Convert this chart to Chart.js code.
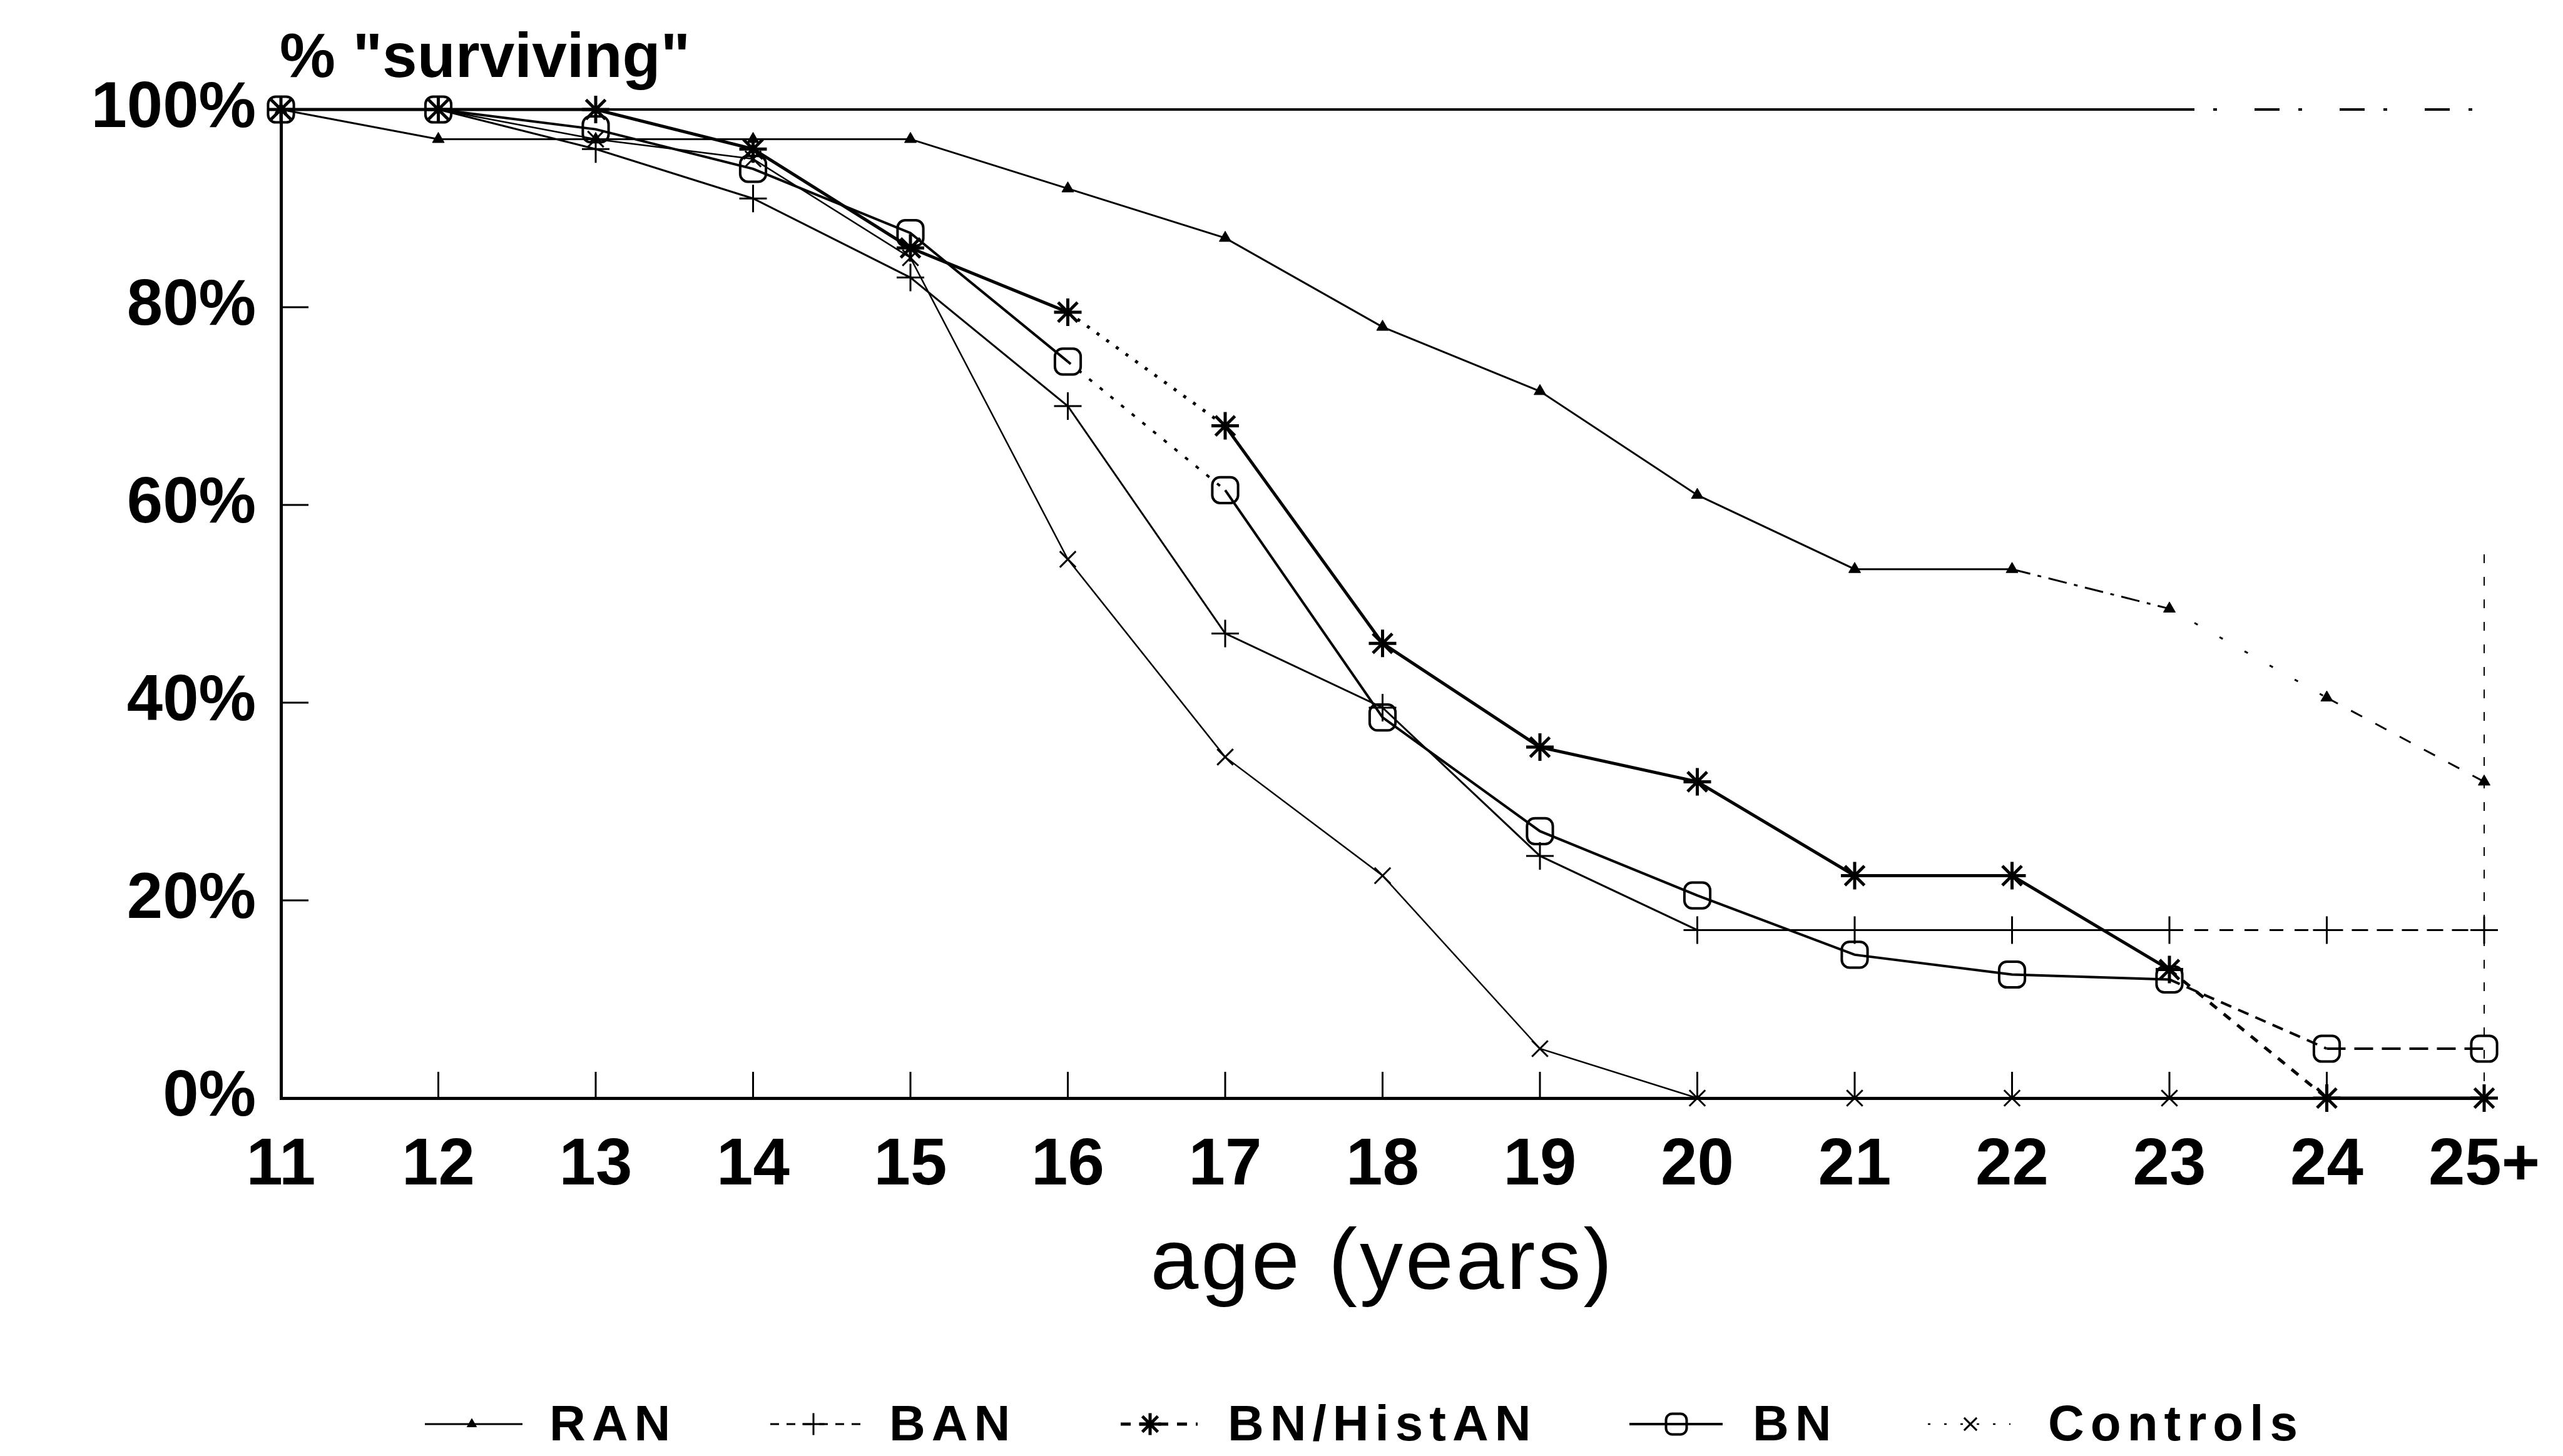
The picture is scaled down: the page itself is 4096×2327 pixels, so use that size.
<!DOCTYPE html>
<html>
<head>
<meta charset="utf-8">
<title>% surviving by age</title>
<style>
  html, body { margin: 0; padding: 0; background: #fff; }
</style>
<script src="https://cdn.jsdelivr.net/npm/chart.js@4.4.1/dist/chart.umd.min.js"></script>
</head>
<body>
<canvas id="survival" width="4096" height="2327"></canvas>
<script>
// ages on the x axis
var ages = ['11', '12', '13', '14', '15', '16', '17', '18', '19', '20', '21', '22', '23', '24', '25+'];

// % "surviving" per group
var ran      = [100, 97, 97, 97, 97, 92, 87, 78, 71.5, 61, 53.5, 53.5, 49.5, 40.5, 32];
var ban      = [100, 100, 96, 91, 83, 70, 47, 39.5, 24.5, 17, 17, 17, 17, 17, 17];
var bnHistAn = [100, 100, 100, 96, 86, 79.5, 68, 46, 35.5, 32, 22.5, 22.5, 13, 0, 0];
var bn       = [100, 100, 98, 94, 87.5, 74.5, 61.5, 38.5, 27, 20.5, 14.5, 12.5, 12, 5, 5];
var controls = [100, 100, 97, 95, 85, 54.5, 34.5, 22.5, 5, 0, 0, 0, 0, 0, 0];

var yTicks = [0, 20, 40, 60, 80, 100];

var FONT = "'Liberation Sans', Arial, Helvetica, sans-serif";

// faint / broken segments in the print (segment start index -> dash)
function dashes(map) {
    return function(c) { return map[c.p0DataIndex] || undefined; };
}

var survData = {
    labels: ages,
    datasets: [{
        label: 'RAN',
        data: ran,
        borderColor: '#000',
        borderWidth: 3,
        pointStyle: 'triangle',
        pointRadius: 11,
        pointBackgroundColor: '#000',
        pointBorderWidth: 1,
        legendDash: [],
        segment: { borderDash: dashes({ 11: [30, 12, 6, 12], 12: [6, 40], 13: [20, 24] }) }
    }, {
        label: 'BAN',
        data: ban,
        borderColor: '#000',
        borderWidth: 3,
        pointStyle: 'cross',
        pointRadius: 22,
        pointBackgroundColor: '#000',
        pointBorderWidth: 3,
        legendDash: [14, 12],
        segment: { borderDash: dashes({ 12: [22, 18], 13: [26, 14] }) }
    }, {
        label: 'BN/HistAN',
        data: bnHistAn,
        borderColor: '#000',
        borderWidth: 5,
        pointStyle: 'star',
        pointRadius: 22,
        pointBackgroundColor: '#000',
        pointBorderWidth: 5,
        legendDash: [16, 14],
        segment: { borderDash: dashes({ 5: [5, 14], 12: [14, 14] }) }
    }, {
        label: 'BN',
        data: bn,
        borderColor: '#000',
        borderWidth: 4,
        pointStyle: 'rectRounded',
        pointRadius: 24,
        pointBackgroundColor: 'rgba(0,0,0,0)',
        pointBorderWidth: 4,
        legendDash: [],
        segment: { borderDash: dashes({ 5: [6, 16], 12: [18, 12], 13: [30, 14] }) }
    }, {
        label: 'Controls',
        data: controls,
        borderColor: '#000',
        borderWidth: 2.5,
        pointStyle: 'crossRot',
        pointRadius: 18,
        pointBackgroundColor: '#000',
        pointBorderWidth: 3,
        legendDash: [4, 22]
    }]
};

// where the hand-drawn legend sits (canvas px)
var legendPos = [
    { x1: 679,  x2: 835,  mx: 754,  tx: 878 },
    { x1: 1231, x2: 1379, mx: 1300, tx: 1421 },
    { x1: 1791, x2: 1914, mx: 1838, tx: 1962 },
    { x1: 2604, x2: 2753, mx: 2679, tx: 2801 },
    { x1: 3081, x2: 3213, mx: 3149, tx: 3273 }
];
var legendY = 2280;

var frame = {
    id: 'frame',
    beforeDatasetsDraw: function(chart) {
        var ctx = chart.ctx, a = chart.chartArea;
        var xs = chart.scales.x, ys = chart.scales.y;
        ctx.save();
        ctx.strokeStyle = '#000';
        ctx.lineWidth = 3;
        // ticks point into the plot
        yTicks.forEach(function(v) {
            if (v <= 0 || v >= 100) return;
            var py = ys.getPixelForValue(v);
            ctx.beginPath();
            ctx.moveTo(a.left, py);
            ctx.lineTo(a.left + 44, py);
            ctx.stroke();
        });
        for (var i = 1; i < ages.length - 1; i++) {
            var px = xs.getPixelForValue(i);
            ctx.beginPath();
            ctx.moveTo(px, a.bottom);
            ctx.lineTo(px, a.bottom - 42);
            ctx.stroke();
        }
        // top edge: solid, then breaking up
        var top = ys.getPixelForValue(100);
        var cut = xs.getPixelForValue(12);
        ctx.lineWidth = 4;
        ctx.beginPath();
        ctx.moveTo(a.left, top);
        ctx.lineTo(cut, top);
        ctx.stroke();
        ctx.setLineDash([40, 30, 6, 60]);
        ctx.beginPath();
        ctx.moveTo(cut, top);
        ctx.lineTo(a.right, top);
        ctx.stroke();
        // right edge, faint dashes
        ctx.lineWidth = 2;
        ctx.setLineDash([14, 22]);
        ctx.beginPath();
        ctx.moveTo(a.right, ys.getPixelForValue(55));
        ctx.lineTo(a.right, a.bottom);
        ctx.stroke();
        ctx.restore();
    },
    afterDraw: function(chart) {
        var ctx = chart.ctx, a = chart.chartArea;
        ctx.save();
        ctx.fillStyle = '#000';
        ctx.strokeStyle = '#000';

        ctx.font = 'bold 100px ' + FONT;
        ctx.textAlign = 'left';
        ctx.textBaseline = 'alphabetic';
        ctx.fillText('% "surviving"', a.left - 2, 123);

        ctx.font = '138px ' + FONT;
        ctx.letterSpacing = '4px';
        ctx.textAlign = 'center';
        ctx.fillText('age (years)', (a.left + a.right) / 2, 2060);

        ctx.font = 'bold 80px ' + FONT;
        ctx.letterSpacing = '10px';
        ctx.textAlign = 'left';
        ctx.textBaseline = 'middle';
        chart.data.datasets.forEach(function(ds, i) {
            var p = legendPos[i];
            ctx.lineWidth = ds.borderWidth;
            ctx.setLineDash(ds.legendDash);
            ctx.beginPath();
            ctx.moveTo(p.x1, legendY - 4);
            ctx.lineTo(p.x2, legendY - 4);
            ctx.stroke();
            ctx.setLineDash([]);
            ctx.fillStyle = ds.pointBackgroundColor;
            ctx.lineWidth = ds.pointBorderWidth;
            Chart.helpers.drawPoint(ctx, {
                pointStyle: ds.pointStyle,
                rotation: 0,
                radius: ds.pointRadius * 0.8,
                borderWidth: ds.pointBorderWidth
            }, p.mx, legendY - 4);
            ctx.fillStyle = '#000';
            ctx.fillText(ds.label, p.tx, legendY);
        });
        ctx.restore();
    }
};

new Chart(document.getElementById('survival'), {
    type: 'line',
    data: survData,
    options: {
        responsive: false,
        devicePixelRatio: 1,
        animation: false,
        events: [],
        clip: false,
        elements: {
            line: { tension: 0, fill: false }
        },
        layout: {
            padding: { top: 175, right: 126, left: 0, bottom: 0 }
        },
        plugins: {
            legend: { display: false },
            tooltip: { enabled: false },
            title: { display: false }
        },
        scales: {
            x: {
                type: 'category',
                offset: false,
                grid: { display: false, drawTicks: false },
                border: { display: true, color: '#000', width: 5 },
                ticks: {
                    color: '#000',
                    font: { family: FONT, size: 105, weight: 'bold' },
                    padding: 46,
                    maxRotation: 0,
                    autoSkip: false
                },
                afterFit: function(s) {
                    s.height = 572;
                    s.paddingLeft = 0;
                    s.paddingRight = 0;
                }
            },
            y: {
                min: 0,
                max: 100,
                grid: { display: false, drawTicks: false },
                border: { display: true, color: '#000', width: 5 },
                ticks: {
                    stepSize: 20,
                    color: '#000',
                    font: { family: FONT, size: 103, weight: 'bold' },
                    padding: 40,
                    callback: function(v) { return v + '%'; }
                },
                afterFit: function(s) {
                    s.width = 449;
                    s.paddingTop = 0;
                    s.paddingBottom = 0;
                }
            }
        }
    },
    plugins: [frame]
});
</script>
</body>
</html>
